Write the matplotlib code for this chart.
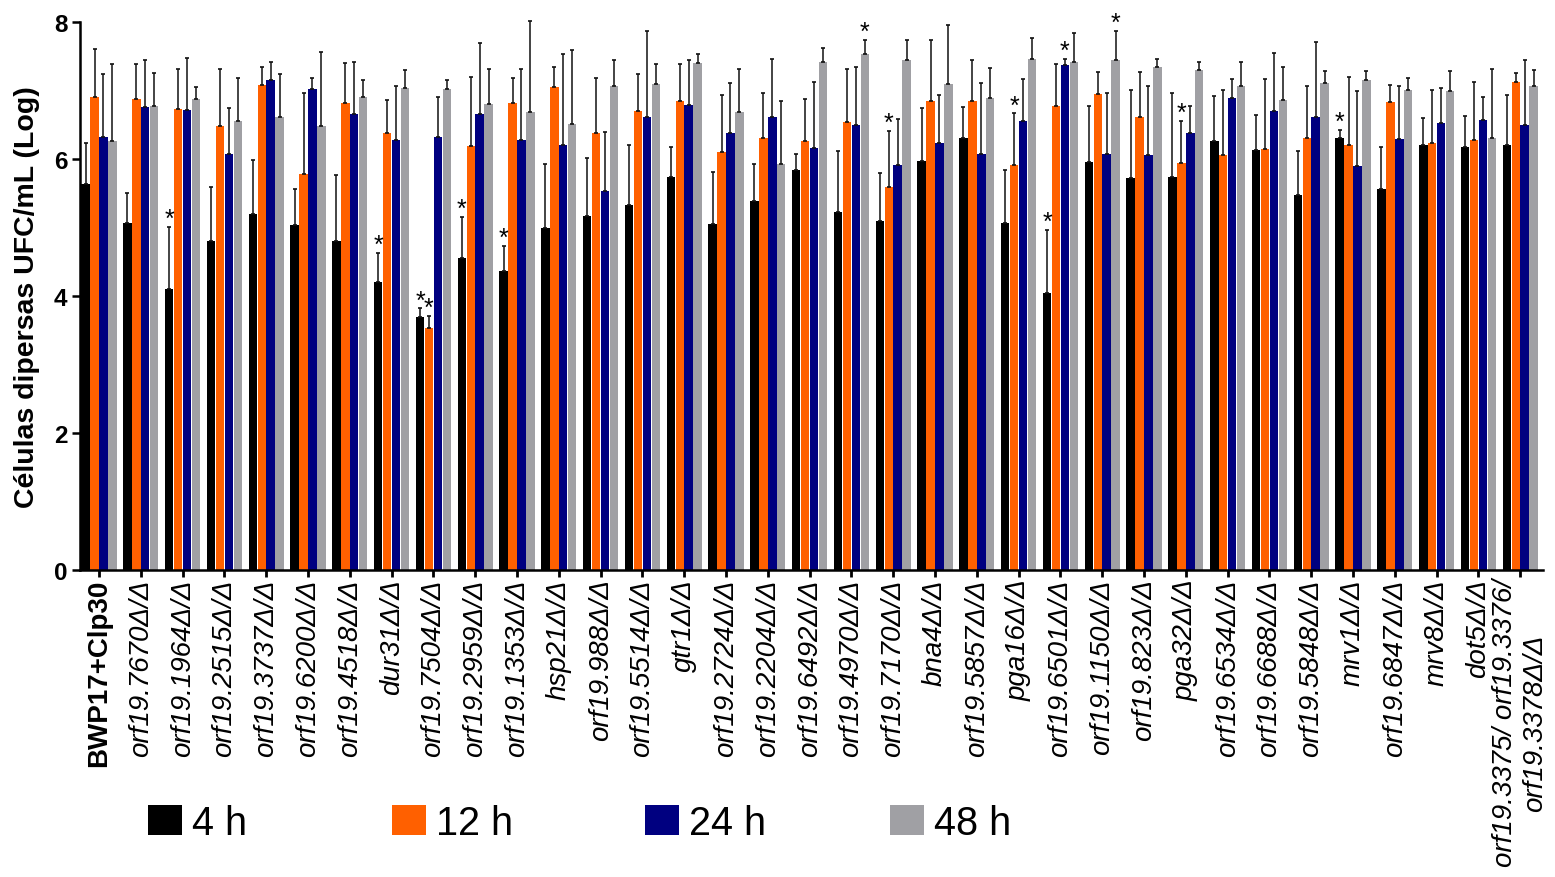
import numpy as np
import matplotlib
matplotlib.use("Agg")
import matplotlib.pyplot as plt
from matplotlib.patches import Patch

plt.rcParams["font.family"] = ["Liberation Sans", "DejaVu Sans"]

# Strains (x categories)
strains = [
    "BWP17+Clp30", "orf19.7670", "orf19.1964", "orf19.2515", "orf19.3737",
    "orf19.6200", "orf19.4518", "dur31", "orf19.7504", "orf19.2959",
    "orf19.1353", "hsp21", "orf19.988", "orf19.5514", "gtr1",
    "orf19.2724", "orf19.2204", "orf19.6492", "orf19.4970", "orf19.7170",
    "bna4", "orf19.5857", "pga16", "orf19.6501", "orf19.1150",
    "orf19.823", "pga32", "orf19.6534", "orf19.6688", "orf19.5848",
    "mrv1", "orf19.6847", "mrv8", "dot5", "orf19.3375/ orf19.3376/\norf19.3378",
]

# Dispersed cells, log CFU/mL (means) and standard deviations per time point
h4 = [5.64, 5.07, 4.10, 4.81, 5.19, 5.03, 4.80, 4.20, 3.70, 4.55, 4.36, 4.99,
      5.17, 5.33, 5.73, 5.05, 5.38, 5.84, 5.22, 5.09, 5.97, 6.31, 5.06, 4.05,
      5.96, 5.72, 5.73, 6.27, 6.13, 5.48, 6.31, 5.56, 6.21, 6.17, 6.20]
h4_sd = [0.60, 0.44, 0.91, 0.78, 0.80, 0.53, 0.97, 0.43, 0.12, 0.61, 0.37, 0.93,
         0.84, 0.87, 0.44, 0.76, 0.55, 0.24, 0.89, 0.70, 0.78, 0.45, 0.78, 0.92,
         0.82, 1.29, 1.23, 0.65, 0.51, 0.63, 0.12, 0.61, 0.39, 0.46, 0.74]

h12 = [6.91, 6.88, 6.73, 6.48, 7.08, 5.78, 6.82, 6.38, 3.53, 6.19, 6.82, 7.05,
       6.38, 6.70, 6.84, 6.10, 6.30, 6.26, 6.54, 5.59, 6.85, 6.85, 5.91, 6.78,
       6.95, 6.61, 5.94, 6.06, 6.15, 6.31, 6.21, 6.83, 6.23, 6.28, 7.12]
h12_sd = [0.70, 0.50, 0.59, 0.84, 0.27, 1.19, 0.58, 0.48, 0.18, 1.00, 0.36, 0.30,
          0.80, 0.54, 0.54, 0.84, 0.67, 0.61, 0.77, 0.82, 0.89, 0.60, 0.76, 0.60,
          0.32, 0.66, 0.62, 0.95, 1.02, 0.75, 0.99, 0.25, 0.78, 0.85, 0.13]

h24 = [6.32, 6.76, 6.71, 6.08, 7.15, 7.02, 6.66, 6.28, 6.32, 6.65, 6.28, 6.20,
       5.53, 6.61, 6.79, 6.38, 6.61, 6.16, 6.49, 5.91, 6.23, 6.08, 6.55, 7.37,
       6.08, 6.06, 6.38, 6.89, 6.70, 6.62, 5.90, 6.29, 6.53, 6.57, 6.50]
h24_sd = [0.92, 0.69, 0.77, 0.66, 0.26, 0.16, 0.75, 0.78, 0.59, 1.05, 1.04, 1.34,
          0.86, 1.26, 0.66, 0.73, 0.85, 0.97, 0.85, 0.67, 0.71, 1.03, 0.62, 0.09,
          0.89, 1.00, 0.39, 0.28, 0.85, 1.09, 1.09, 0.77, 0.51, 0.34, 0.95]

h48 = [6.27, 6.78, 6.88, 6.55, 6.61, 6.48, 6.91, 7.03, 7.02, 6.80, 6.69, 6.51,
       7.06, 7.09, 7.40, 6.69, 5.92, 7.41, 7.54, 7.45, 7.09, 6.89, 7.46, 7.41,
       7.45, 7.35, 7.30, 7.06, 6.86, 7.11, 7.15, 7.01, 6.99, 6.31, 7.07]
h48_sd = [1.11, 0.48, 0.17, 0.63, 0.63, 1.08, 0.25, 0.27, 0.14, 0.52, 1.32, 1.08,
          0.39, 0.29, 0.14, 0.63, 0.92, 0.21, 0.20, 0.29, 0.87, 0.44, 0.31, 0.43,
          0.42, 0.11, 0.12, 0.35, 0.48, 0.17, 0.13, 0.17, 0.29, 1.01, 0.23]

series_labels = ["4 h", "12 h", "24 h", "48 h"]
series_colors = ["#000000", "#FF6000", "#000080", "#A0A0A4"]

# Significant differences: (strain index, time-point index)
significant = [(2, 0), (7, 0), (8, 0), (8, 1), (9, 0), (10, 0), (18, 3),
               (19, 1), (22, 1), (23, 0), (23, 2), (24, 3), (26, 1), (30, 0)]

means = [h4, h12, h24, h48]
sds = [h4_sd, h12_sd, h24_sd, h48_sd]

W, H = 1555, 878
fig = plt.figure(figsize=(W / 100, H / 100), dpi=100)
ax = fig.add_axes([80 / W, 1 - 571 / H, 1463 / W, 548 / H])

x = np.arange(len(strains))
step = 0.213
bar_w = 0.203
for k in range(4):
    xk = x + (k - 1.5) * step
    ax.bar(xk, means[k], width=bar_w, color=series_colors[k],
           edgecolor="none", zorder=2, label=series_labels[k])
    ax.errorbar(xk, means[k], yerr=[np.zeros(len(x)), sds[k]], fmt="none",
                ecolor="#111111", elinewidth=1.1, capsize=1.5, capthick=1.2,
                zorder=3, clip_on=False)

for i, k in significant:
    top = means[k][i] + sds[k][i]
    ax.text(x[i] + (k - 1.5) * step, top + 0.01, "*", ha="center",
            va="baseline", fontsize=18, zorder=4)

ax.set_xlim(-0.4545, 34.545)
ax.set_ylim(0, 8)
ax.set_yticks([0, 2, 4, 6, 8])
ax.tick_params(axis="y", direction="out", length=6, width=1.8, pad=3,
               labelsize=17.5)
for t in ax.get_yticklabels():
    t.set_fontweight("bold")

tick_texts = [strains[0]] + [s + "Δ/Δ" for s in strains[1:]]
ax.set_xticks(x)
ax.set_xticklabels(tick_texts, rotation=90, ha="center", va="top",
                   fontsize=20)
for i, t in enumerate(ax.get_xticklabels()):
    if i == 0:
        t.set_fontweight("bold")
    else:
        t.set_fontstyle("italic")
        t.set_multialignment("center")
ax.tick_params(axis="x", direction="out", length=5, width=2.0, pad=1)

ax.set_ylabel("Células dipersas UFC/mL (Log)", fontsize=20.5, fontweight="bold")
ax.yaxis.set_label_coords(-0.027, 0.5)

for side in ("top", "right"):
    ax.spines[side].set_visible(False)
for side in ("left", "bottom"):
    ax.spines[side].set_linewidth(1.8)

# One legend entry per time point, evenly laid out below the tick labels
legend_left_px = [148, 392, 645, 890]
for c, lab, px in zip(series_colors, series_labels, legend_left_px):
    fig.legend([Patch(facecolor=c, edgecolor="none")], [lab],
               loc="center left", bbox_to_anchor=(px / W, 1 - 824 / H),
               frameon=False, fontsize=28.5, handlelength=0.85,
               handleheight=0.8, handletextpad=0.25, borderpad=0,
               borderaxespad=0)

fig.savefig("out.png", dpi=100)
